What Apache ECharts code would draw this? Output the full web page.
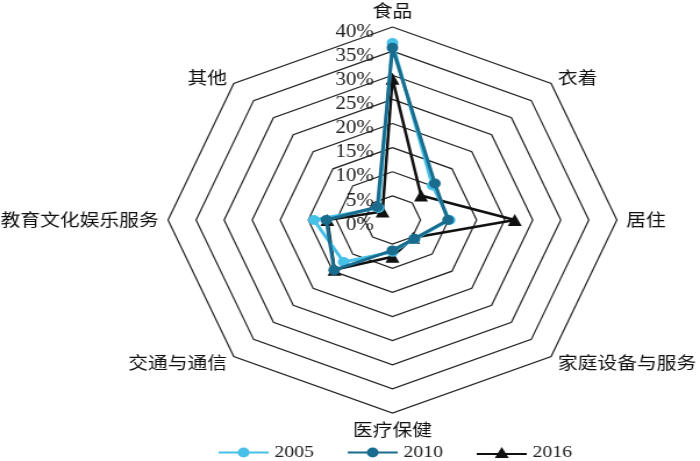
<!DOCTYPE html>
<html>
<head>
<meta charset="utf-8">
<script src="https://cdn.jsdelivr.net/npm/echarts@6/dist/echarts.min.js"></script>
<style>
html,body{margin:0;padding:0;background:#fff;overflow:hidden;}
#wrap{width:700px;height:461px;overflow:hidden;}
/* the reference picture is stretched horizontally; reproduce that stretch */
#chart{width:602px;height:461px;transform:scaleX(1.16279);transform-origin:0 0;}
</style>
</head>
<body>
<div id="wrap"><div id="chart"></div></div>
<script>
// Categories in clockwise order starting at the top
var categories = ['食品', '衣着', '居住', '家庭设备与服务', '医疗保健', '交通与通信', '教育文化娱乐服务', '其他'];
var years = ['2005', '2010', '2016'];
var v2005 = [36.7, 10.1, 10.2, 5.6, 6.6, 12.3, 14.0, 3.5];
var v2010 = [35.7, 10.7, 9.9, 5.5, 6.3, 14.7, 11.8, 3.8];
var v2016 = [29.3, 7.2, 21.8, 5.2, 7.6, 14.6, 11.6, 2.5];
var axisMax = 40;
var axisSplits = 8;

// ECharts radar runs counter-clockwise: reorder so the picture reads clockwise
function ccw(arr) {
  return [arr[0]].concat(arr.slice(1).reverse());
}

var cjk = '"Noto Sans CJK SC", sans-serif';
var serif = '"Liberation Serif", "DejaVu Serif", serif';

var indicators = ccw(categories).map(function (name, i) {
  var ind = { name: name, max: axisMax, min: 0 };
  if (i !== 0) ind.axisLabel = { show: false };
  return ind;
});

var colors = { '2005': '#47C0E8', '2010': '#1A6C8E', '2016': '#111111' };

var iconCircle = 'path://M0,4.5 L43,4.5 L43,6.5 L0,6.5 Z M16.5,5.5 A5,5 0 1,1 26.5,5.5 A5,5 0 1,1 16.5,5.5 Z';
var iconTri = 'path://M0,6 L43,6 L43,8 L0,8 Z M15.5,11 L21.5,0 L27.5,11 Z';

function makeSeries(year, values, symbol, size, z, lw) {
  return {
    type: 'radar',
    name: year,
    z: z,
    symbol: symbol,
    symbolSize: size,
    lineStyle: { color: colors[year], width: lw },
    itemStyle: { color: colors[year] },
    data: [{ name: year, value: ccw(values) }]
  };
}

var chart = echarts.init(document.getElementById('chart'));
chart.setOption({
  animation: false,
  backgroundColor: '#fff',
  color: [colors['2005'], colors['2010'], colors['2016']],
  legend: {
    data: years.map(function (y, i) {
      return { name: y, icon: i === 2 ? iconTri : iconCircle };
    }),
    top: 439,
    left: 183,
    itemWidth: 43,
    itemHeight: 11,
    itemGap: 29,
    textStyle: { fontFamily: serif, fontSize: 17, color: '#222' }
  },
  radar: {
    center: [337.5, 220],
    radius: 193,
    startAngle: 90,
    shape: 'polygon',
    splitNumber: axisSplits,
    axisName: { color: '#111', fontFamily: cjk, fontSize: 17 },
    nameGap: 8,
    splitLine: { lineStyle: { color: '#222', width: 1.2 } },
    splitArea: { show: false },
    axisLine: { show: false },
    axisTick: { show: false },
    axisLabel: {
      show: true,
      showMinLabel: true,
      color: '#222',
      fontFamily: serif,
      fontSize: 18,
      margin: 16,
      formatter: function (v) { return '{a|' + v + '%}'; },
      rich: {
        a: { fontFamily: serif, fontSize: 18, color: '#222', padding: [10, 0, 0, 0] }
      }
    },
    indicator: indicators
  },
  series: [
    makeSeries('2016', v2016, 'triangle', 12, 2, 2.5),
    makeSeries('2005', v2005, 'circle', 10, 3, 3),
    makeSeries('2010', v2010, 'circle', 10, 4, 3)
  ]
});
</script>
</body>
</html>
